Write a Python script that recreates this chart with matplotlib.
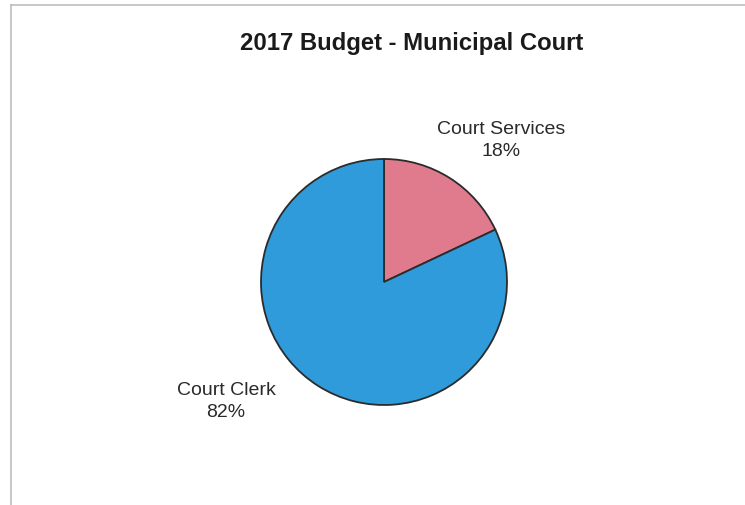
import matplotlib.pyplot as plt
from matplotlib.lines import Line2D

# budget split, percent
categories = ["Court Services", "Court Clerk"]
shares = [18, 82]
colors = ["#e07b8e", "#2f9bdb"]

plt.rcParams['font.family'] = ['Liberation Sans', 'DejaVu Sans']

W, H = 745, 506
fig = plt.figure(figsize=(W / 100, H / 100), dpi=100)
fig.patch.set_facecolor("white")

# pie area: centre and radius in pixels
cx, cy, r = 384, 283, 123
ax = fig.add_axes([(cx - r) / W, 1 - (cy + r) / H, 2 * r / W, 2 * r / H])
ax.pie(shares, colors=colors, startangle=90, counterclock=False, radius=1,
       wedgeprops=dict(edgecolor="#2b2b2b", linewidth=1.3))
ax.set_xlim(-1, 1)
ax.set_ylim(-1, 1)
ax.set_aspect("equal")
ax.axis("off")

# labels, placed in pie units
label_pos = [(0.95, 1.155), (-1.285, -0.967)]
for name, val, (lx, ly) in zip(categories, shares, label_pos):
    ax.text(lx, ly, f"{name}\n{val}%", ha="center", va="center",
            fontsize=14, color="#2a2a2a", linespacing=1.38, clip_on=False)

fig.text(412 / W, 1 - 44 / H, "2017 Budget - Municipal Court",
         ha="center", va="center", fontsize=17.2, fontweight="bold", color="#1a1a1a")

# thin outer frame on the left and top
fig.add_artist(Line2D([10.5 / W, 10.5 / W], [0, 1 - 6 / H], color="#bdbdbd", lw=1.2,
                      transform=fig.transFigure))
fig.add_artist(Line2D([10.5 / W, 1], [1 - 6 / H, 1 - 6 / H], color="#bdbdbd", lw=1.2,
                      transform=fig.transFigure))

fig.savefig("out.png", dpi=100)
